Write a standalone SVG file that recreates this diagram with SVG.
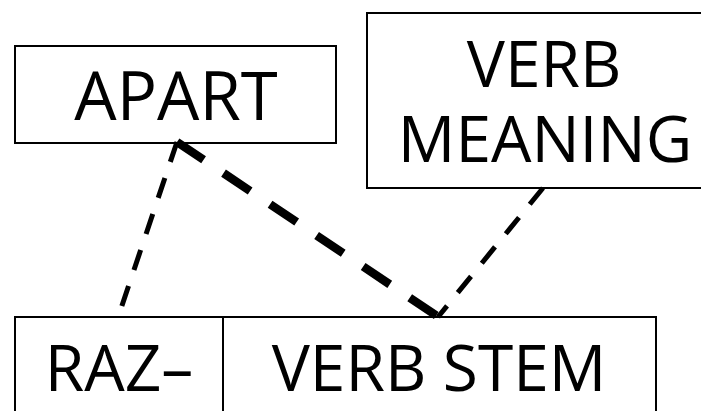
<svg xmlns="http://www.w3.org/2000/svg" width="701" height="411" viewBox="0 0 701 411">
  <style>
    .box { fill: #ffffff; stroke: #000000; stroke-width: 2; }
    .label { font-family: "Open Sans", "Noto Sans", "DejaVu Sans", sans-serif; font-size: 64px; fill: #000000; text-anchor: middle; }
    .link { fill: none; stroke: #000000; stroke-linecap: butt; }
    .thin { stroke-width: 5; stroke-dasharray: 21 17; }
    .thick { stroke-width: 8.5; stroke-dasharray: 32 24; }
  </style>
  <rect x="0" y="0" width="701" height="411" fill="#ffffff"/>

  <!-- top-left node -->
  <g id="apart">
    <rect class="box" x="15" y="46" width="321" height="97"/>
    <text class="label" x="176" y="120" style="font-size:67px">APART</text>
  </g>

  <!-- top-right node, runs off the right edge -->
  <g id="verb-meaning">
    <rect class="box" x="367" y="13" width="345" height="175"/>
    <text class="label" x="544" y="87">VERB</text>
    <text class="label" x="545" y="162">MEANING</text>
  </g>

  <!-- bottom word, split into prefix and stem -->
  <g id="raz">
    <rect class="box" x="15" y="317" width="208" height="120"/>
    <text class="label" x="119" y="391">RAZ–</text>
  </g>
  <g id="verb-stem">
    <rect class="box" x="223" y="317" width="433" height="120"/>
    <text class="label" x="439" y="391">VERB STEM</text>
  </g>

  <!-- dashed links -->
  <g id="connectors">
    <line class="link thin" x1="177" y1="142" x2="121.5" y2="307"/>
    <line class="link thick" x1="177" y1="142" x2="437" y2="316"/>
    <line class="link thin" x1="543" y1="188" x2="438" y2="317"/>
  </g>
</svg>
